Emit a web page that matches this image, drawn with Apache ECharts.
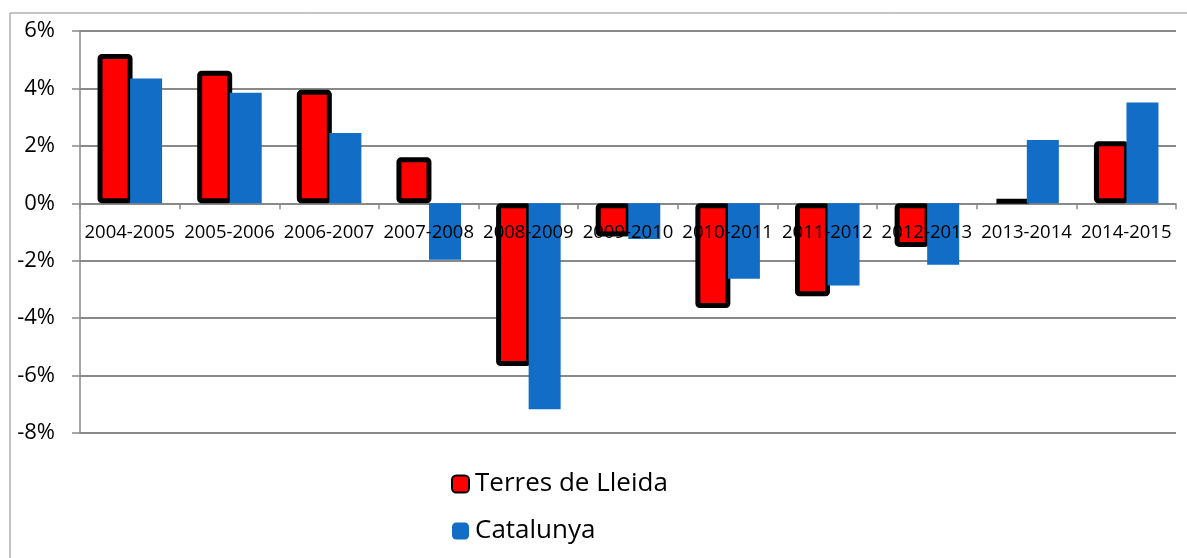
<!DOCTYPE html>
<html>
<head>
<meta charset="utf-8">
<script src="https://cdn.jsdelivr.net/npm/echarts@6/dist/echarts.min.js"></script>
<style>
html,body{margin:0;padding:0;background:#fff;}
#chart{width:1187px;height:558px;}
</style>
</head>
<body>
<div id="chart"></div>
<script>
const categories = ['2004-2005','2005-2006','2006-2007','2007-2008','2008-2009','2009-2010','2010-2011','2011-2012','2012-2013','2013-2014','2014-2015'];
const terresDeLleida = [5.2, 4.62, 3.95, 1.6, -5.67, -1.16, -3.65, -3.24, -1.52, 0.15, 2.16];
const catalunya = [4.35, 3.85, 2.45, -1.97, -7.17, -1.24, -2.63, -2.86, -2.14, 2.2, 3.51];
const yTicks = {min: -8, max: 6, interval: 2};

const GRID_TOP = 31, GRID_BOTTOM = 125, H = 558;
const gridH = H - GRID_TOP - GRID_BOTTOM;
const zeroOffset = -gridH * (0 - yTicks.min) / (yTicks.max - yTicks.min);

const chart = echarts.init(document.getElementById('chart'));
const FONT = 'Open Sans';
chart.setOption({
  animation: false,
  graphic: [{
    type: 'rect', left: 7.5, top: 10.5, z: -10,
    shape: {width: 1200, height: 600},
    style: {fill: 'none', stroke: '#898989', lineWidth: 1}
  }],
  grid: {left: 80, right: 11, top: GRID_TOP, bottom: GRID_BOTTOM, containLabel: false},
  legend: {
    orient: 'vertical', left: 451, top: 471, itemGap: 21, padding: 0,
    itemWidth: 17, itemHeight: 17,
    textStyle: {fontFamily: FONT, fontSize: 26, lineHeight: 24, color: '#000', padding: [0,0,0,1]},
    data: ['Terres de Lleida', 'Catalunya']
  },
  xAxis: {
    type: 'category', data: categories, z: 5,
    position: 'bottom', offset: zeroOffset,
    axisLine: {show: false, onZero: false},
    axisTick: {show: true, length: 6, lineStyle: {color: '#898989', width: 1.5}},
    axisLabel: {interval: 0, fontFamily: FONT, fontSize: 18.5, color: '#000', margin: 20},
    splitLine: {show: false}
  },
  yAxis: {
    type: 'value', min: yTicks.min, max: yTicks.max, interval: yTicks.interval,
    axisLine: {show: true, lineStyle: {color: '#898989', width: 1.5}},
    axisTick: {show: true, length: 8, lineStyle: {color: '#898989', width: 1.5}},
    axisLabel: {formatter: '{value}%', fontFamily: FONT, fontSize: 22, color: '#000', margin: 25},
    splitLine: {show: true, lineStyle: {color: '#898989', width: 2}}
  },
  series: [{
    name: 'Terres de Lleida', type: 'bar', data: terresDeLleida,
    barWidth: 35, barGap: '-7%',
    itemStyle: {color: '#FF0000', borderColor: '#000', borderWidth: 5, borderJoin: 'round', borderRadius: 2}
  }, {
    name: 'Catalunya', type: 'bar', data: catalunya,
    barWidth: 32, barGap: '-7%',
    itemStyle: {color: '#116DC6'}
  }]
});
</script>
</body>
</html>
